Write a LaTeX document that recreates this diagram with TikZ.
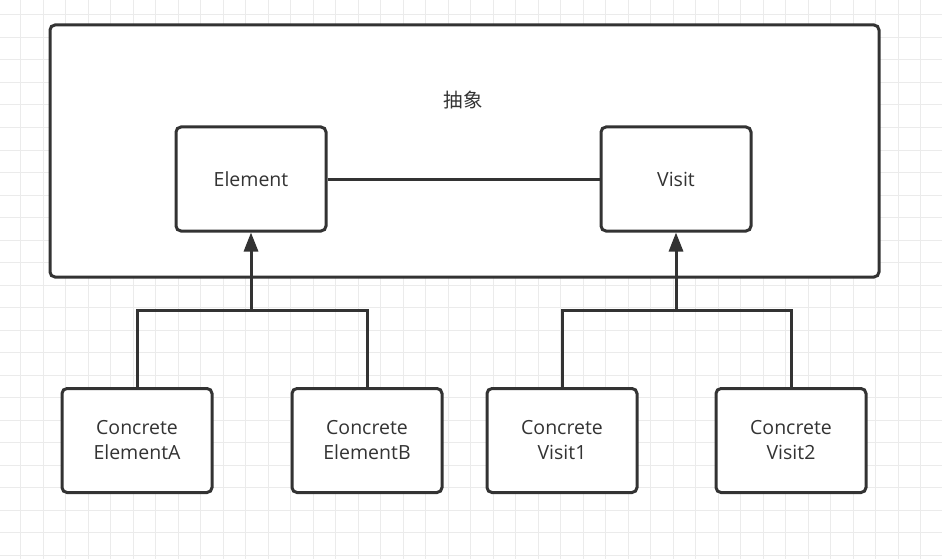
\documentclass[tikz,border=0pt]{standalone}
\usepackage{fontspec}
\setmainfont{Open Sans}
\newfontfamily\cjk{Noto Sans CJK SC}
\usetikzlibrary{arrows.meta}
\definecolor{ink}{HTML}{333333}
\definecolor{gridc}{HTML}{EBEBEB}
\begin{document}
\begin{tikzpicture}[x=1pt,y=-1pt,
  box/.style={draw=ink,line width=3pt,rounded corners=5pt,fill=white,
    minimum width=150pt,minimum height=104pt,inner sep=0pt,
    align=center,text=ink,font=\fontsize{19.5}{25}\selectfont},
  link/.style={draw=ink,line width=3pt},
  arr/.style={link,-{Triangle[length=19pt,width=14pt]}}]
\useasboundingbox (0,0) rectangle (942,559);
\fill[white] (0,0) rectangle (942,559);
\foreach \k in {0,...,41} {\draw[gridc,line width=1pt] ({20.7+22.5*\k},0) -- ({20.7+22.5*\k},559);}
\foreach \k in {0,...,24} {\draw[gridc,line width=1pt] (0,{15+22.5*\k}) -- (942,{15+22.5*\k});}
\node[draw=ink,line width=3pt,rounded corners=5pt,fill=white,minimum width=829pt,minimum height=252pt,inner sep=0pt] (abs) at (464.5,151) {};
\node[text=ink,font=\cjk\fontsize{19.5}{25}\selectfont] (lbl) at (463,100) {抽象};
\node[box] (el) at (251,179) {\raisebox{-2pt}{Element}};
\node[box] (vi) at (676,179) {\raisebox{-2pt}{Visit}};
\node[box] (ca) at (137,440.5) {Concrete\\ElementA};
\node[box] (cb) at (367,440.5) {Concrete\\ElementB};
\node[box] (v1) at (562,440.5) {Concrete\\Visit1};
\node[box] (v2) at (791,440.5) {Concrete\\Visit2};
\coordinate (jE) at (251,310);
\coordinate (jV) at (676,310);
\draw[link] (el.east) -- (vi.west);
\draw[link] (ca.north) |- (jE) -| (cb.north);
\draw[arr] (jE) -- (el.south);
\draw[link] (v1.north) |- (jV) -| (v2.north);
\draw[arr] (jV) -- (vi.south);
\end{tikzpicture}
\end{document}
